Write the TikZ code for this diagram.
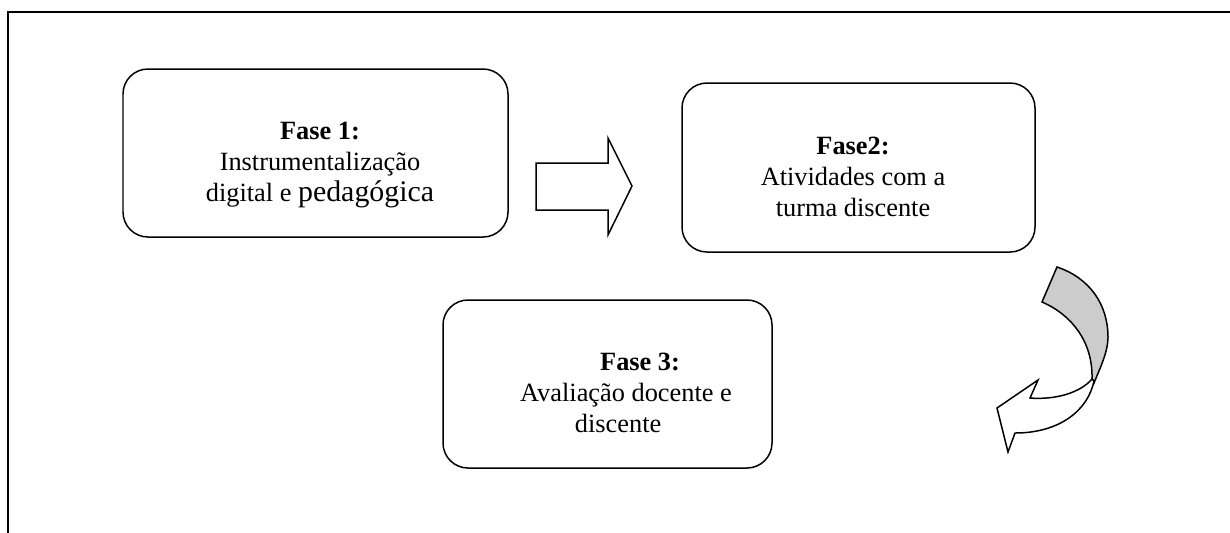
\documentclass[tikz,border=0pt]{standalone}
\usepackage{fontspec}
\setmainfont{Liberation Serif}
\begin{document}
\begin{tikzpicture}[x=0.02cm,y=-0.02cm,
  phasebox/.style={draw=black,line width=0.85pt,rounded corners=0.5cm},
  phasetext/.style={align=center,inner sep=0pt,font=\fontsize{15}{17.6}\selectfont},
  arrowshape/.style={draw=black,line width=0.85pt,line join=miter}]
\useasboundingbox (0,0) rectangle (1230,532);
% outer frame (only top and left edges visible)
\coordinate (frameTR) at (1232,12);
\coordinate (frameC) at (7.8,12);
\coordinate (frameBL) at (7.8,534);
\draw[line width=1.1pt] (frameTR) -- (frameC) -- (frameBL);
% boxes
\node[phasebox,minimum width=385*0.02cm,minimum height=168*0.02cm] (b1) at (315.5,153) {};
\node[phasebox,minimum width=353*0.02cm,minimum height=169*0.02cm] (b2) at (858.5,167.5) {};
\node[phasebox,minimum width=329*0.02cm,minimum height=168*0.02cm] (b3) at (607.5,384) {};
% texts
\node[phasetext] (t1) at (320,165) {\textbf{Fase 1:}\\Instrumentalização\\digital e {\fontsize{17}{17.6}\selectfont pedagógica}};
\node[phasetext] (t2) at (853,177) {\textbf{Fase2:}\\Atividades com a\\turma discente};
\node[phasetext] (t3) at (626,393) {\hspace*{16pt}\textbf{Fase 3:}\\Avaliação docente e\\discente\hspace*{9pt}};
% straight block arrow
\draw[arrowshape] (536,163) -- (608,163) -- (608,138) -- (632,186) -- (608,235) -- (608,210) -- (536,210) -- cycle;
% curved block arrow: grey tail part
\draw[arrowshape,fill={rgb,255:red,204;green,204;blue,204}]
  (1057,267) .. controls (1090,278) and (1108,305) .. (1108,337)
  .. controls (1108,352) and (1100,368) .. (1094,383)
  -- (1092,379) .. controls (1093,342) and (1072,315) .. (1042,302) -- cycle;
% curved block arrow: white head part
\draw[arrowshape,fill=white]
  (1094,381) .. controls (1088,410) and (1060,433) .. (1015,433)
  -- (1008,452) -- (997,408) -- (1038,380) -- (1030,398)
  .. controls (1055,400) and (1080,393) .. (1092,379) -- cycle;
\end{tikzpicture}
\end{document}
